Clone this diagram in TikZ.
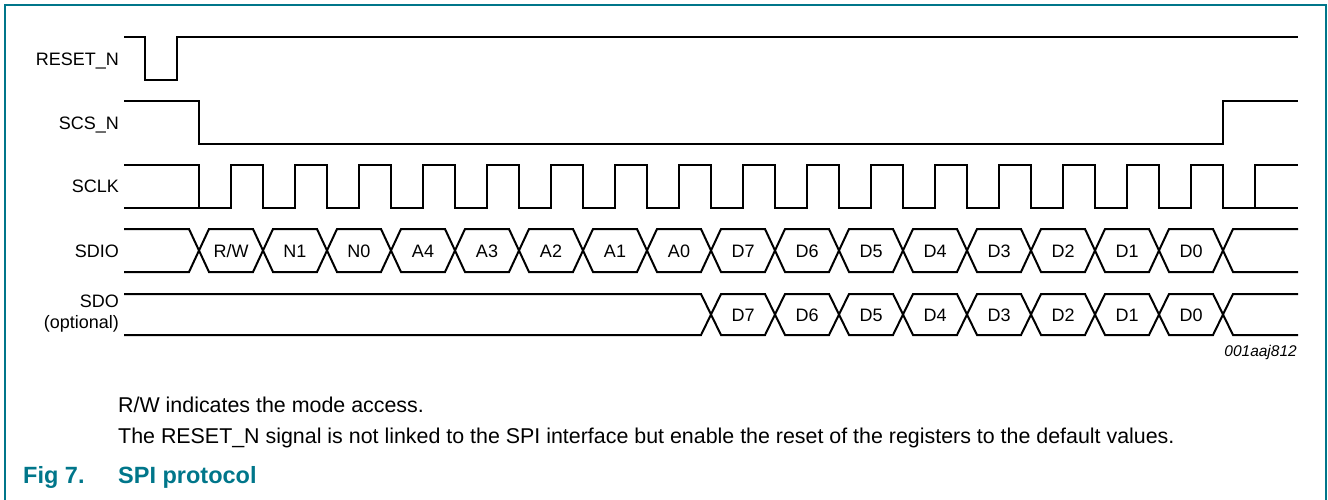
\documentclass[tikz,border=0pt]{standalone}
\usepackage{fontspec}
\setmainfont{Liberation Sans}
\usepackage{xcolor}
\usepackage{tikz}
\usetikzlibrary{calc}
\definecolor{figteal}{RGB}{0,118,138}
\definecolor{trace}{RGB}{0,0,0}

\tikzset{
  wave/.style={trace,line width=2pt},
  signame/.style={anchor=base east,inner sep=0pt,font=\fontsize{18}{21}\selectfont},
  bitname/.style={anchor=base,inner sep=0pt,font=\fontsize{18}{21}\selectfont},
  note/.style={anchor=base west,inner sep=0pt,font=\fontsize{21.4}{25}\selectfont},
  figtitle/.style={note,figteal,font=\fontsize{23.5}{27}\selectfont\bfseries}
}

\begin{document}
\begin{tikzpicture}[x=1pt,y=-1pt]
    \useasboundingbox (0,0) rectangle (1328,500);

    % Frame
    \draw[figteal,line width=1.5pt] (5,500) -- (5,5) -- (1326,5) -- (1326,500);

    % Signal names
    \node[signame] (reset-lbl) at (119,66) {RESET\_N};
    \node[signame] (scs-lbl) at (119,129.5) {SCS\_N};
    \node[signame] (sclk-lbl) at (119,193) {SCLK};
    \node[signame] (sdio-lbl) at (119,257) {SDIO};
    \node[signame] (sdo-lbl) at (119,307) {SDO};
    \node[signame] (sdo-opt) at (119,328) {(optional)};

    % RESET_N and SCS_N
    \draw[wave] (124,37) -- (145,37) -- (145,80) -- (177,80) -- (177,37) -- (1298,37);
    \draw[wave] (124,101) -- (199,101) -- (199,144) -- (1223,144) -- (1223,101) -- (1298,101);

    % SCLK
    \draw[wave] (124,208) -- (199,208);
    \draw[wave] (124,165) -- (199,165)
        foreach \t in {199,263,...,1159} { |- (\t+32,208) |- (\t+64,165) }
        |- (1255,208) |- (1298,165);
    \draw[wave] (1223,208) -- (1298,208);

    % SDIO
    \draw[wave] (124,229) -- (189,229) -- (199,250.5) -- (189,272) -- (124,272);
    \foreach \bit [count=\i from 0] in {R/W,N1,N0,A4,A3,A2,A1,A0,D7,D6,D5,D4,D3,D2,D1,D0}
    {
        \draw[wave] (199+64*\i,250.5) -- (209+64*\i,229) -- (253+64*\i,229)
            -- (263+64*\i,250.5) -- (253+64*\i,272) -- (209+64*\i,272) -- cycle;
        \node[bitname] (sdio-\i) at (231+64*\i,257) {\bit};
    }
    \draw[wave] (1298,229) -- (1233,229) -- (1223,250.5) -- (1233,272) -- (1298,272);

    % SDO (optional)
    \draw[wave] (124,294) -- (701,294) -- (711,314.5) -- (701,335) -- (124,335);
    \foreach \bit [count=\i from 8] in {D7,D6,D5,D4,D3,D2,D1,D0}
    {
        \draw[wave] (199+64*\i,314.5) -- (209+64*\i,294) -- (253+64*\i,294)
            -- (263+64*\i,314.5) -- (253+64*\i,335) -- (209+64*\i,335) -- cycle;
        \node[bitname] (sdo-\i) at (231+64*\i,321) {\bit};
    }
    \draw[wave] (1298,294) -- (1233,294) -- (1223,314.5) -- (1233,335) -- (1298,335);

    \node[anchor=base east,inner sep=0pt,font=\fontsize{15.5}{18}\selectfont\itshape] (fig-id) at (1297,356) {001aaj812};

    % Notes and caption
    \node[note] (note-rw) at (118,412.5) {R/W indicates the mode access.};
    \node[note] (note-reset) at (118,443.5) {The RESET\_N signal is not linked to the SPI interface but enable the reset of the registers to the default values.};
    \node[figtitle] (fig-num) at (23,483) {Fig 7.};
    \node[figtitle] (fig-title) at (118,483) {SPI protocol};

\end{tikzpicture}
\end{document}
